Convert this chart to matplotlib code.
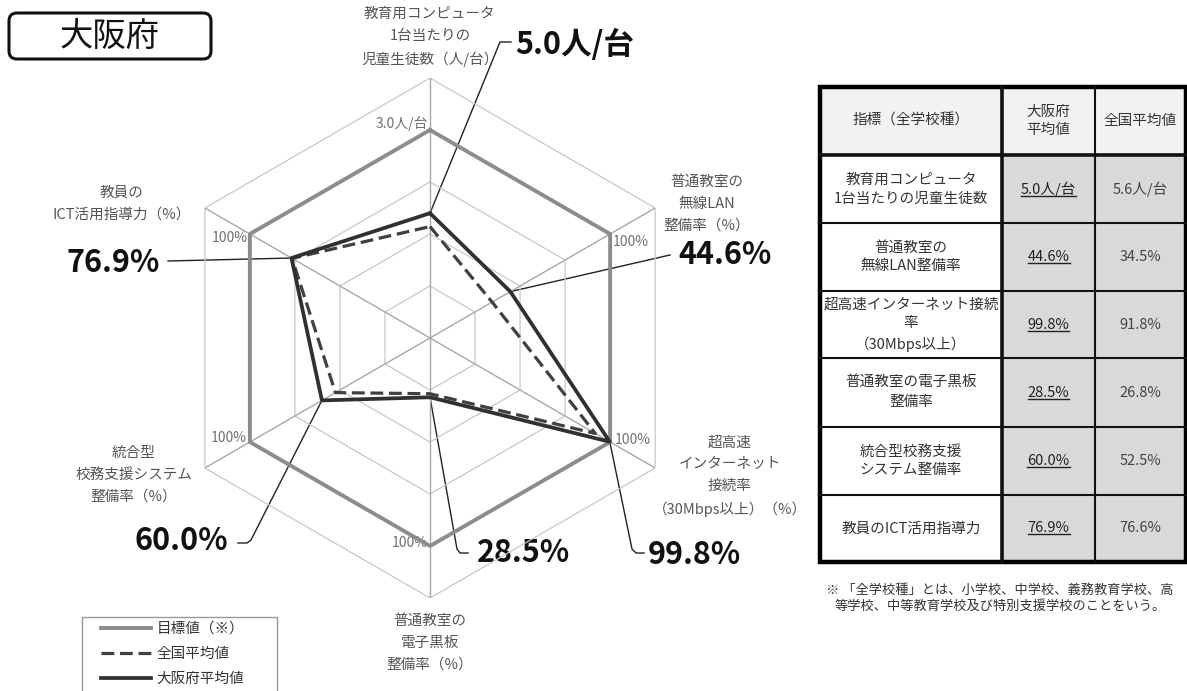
import numpy as np
import matplotlib
matplotlib.use('Agg')
import matplotlib.pyplot as plt
from matplotlib.patches import Rectangle, FancyBboxPatch

plt.rcParams['font.family'] = ['Noto Sans CJK JP', 'DejaVu Sans']

# ---- data ----
axis_labels = ['教育用コンピュータ\n1台当たりの\n児童生徒数（人/台）',
               '普通教室の\n無線LAN\n整備率（%）',
               '超高速\nインターネット\n接続率\n（30Mbps以上）（%）',
               '普通教室の\n電子黒板\n整備率（%）',
               '統合型\n校務支援システム\n整備率（%）',
               '教員の\nICT活用指導力（%）']
osaka = [5.0, 44.6, 99.8, 28.5, 60.0, 76.9]
national = [5.6, 34.5, 91.8, 26.8, 52.5, 76.6]
target_pc = 3.0       # 人/台 target for the first axis
target_pct = 100.0    # % target for the others
osaka_text = ['5.0人/台', '44.6%', '99.8%', '28.5%', '60.0%', '76.9%']
national_text = ['5.6人/台', '34.5%', '91.8%', '26.8%', '52.5%', '76.6%']
table_names = ['教育用コンピュータ\n1台当たりの児童生徒数',
               '普通教室の\n無線LAN整備率',
               '超高速インターネット接続\n率\n（30Mbps以上）',
               '普通教室の電子黒板\n整備率',
               '統合型校務支援\nシステム整備率',
               '教員のICT活用指導力']
table_header = ['指標（全学校種）', '大阪府\n平均値', '全国平均値']
legend_labels = ['目標値（※）', '全国平均値', '大阪府平均値']
note = '※ 「全学校種」とは、小学校、中学校、義務教育学校、高\n等学校、中等教育学校及び特別支援学校のことをいう。'


def score(vals):
    # first axis is "students per PC": lower is better -> invert against target
    out = [target_pc / vals[0] * 100] + list(vals[1:])
    return np.array(out)


W, H = 1187, 691
fig = plt.figure(figsize=(W / 100, H / 100), dpi=100)

# overlay axes in pixel coordinates (origin top-left)
ov = fig.add_axes([0, 0, 1, 1])
ov.set_xlim(0, W)
ov.set_ylim(H, 0)
ov.set_axis_off()

# radar axes: centre (430,338), radius 260 px
cx, cy, R = 430, 338, 260
ax = fig.add_axes([(cx - R) / W, (H - cy - R) / H, 2 * R / W, 2 * R / H], projection='polar')
ax.set_theta_zero_location('N')
ax.set_theta_direction(-1)
ax.set_rlim(0, 125)
ax.set_axis_off()

theta = np.deg2rad(np.arange(6) * 60)
th_c = np.append(theta, theta[0])

for r in [25, 50, 75, 100, 125]:
    ax.plot(th_c, [r] * 7, color='#c8c8c8', lw=0.9, zorder=1)
for t in theta:
    ax.plot([t, t], [0, 125], color='#a8a8a8', lw=1.0, zorder=1)

tgt = [target_pct] * 6
ax.plot(th_c, tgt + tgt[:1], color='#8c8c8c', lw=2.8, zorder=2, label=legend_labels[0])
nat = score(national)
ax.plot(th_c, np.append(nat, nat[0]), color='#404040', lw=2.3, ls=(0, (4, 1.8)),
        zorder=3, label=legend_labels[1])
osk = score(osaka)
ax.plot(th_c, np.append(osk, osk[0]), color='#303030', lw=2.7, zorder=4,
        label=legend_labels[2])


def to_px(t, r):
    d = ax.transData.transform((t, r))
    return ov.transData.inverted().transform(d)


# scale labels at the target vertices
tick_txt = ['3.0人/台', '100%', '100%', '100%', '100%', '100%']
tick_off = [(-2, -7, 'right'), (3, 8, 'left'), (5, -2, 'left'),
            (-2, -3, 'right'), (-3, -4, 'right'), (-2, 4, 'right')]
for i, t in enumerate(theta):
    vx, vy = to_px(t, target_pct)
    dx, dy, ha = tick_off[i]
    ov.text(vx + dx, vy + dy, tick_txt[i], fontsize=10, color='#707070',
            ha=ha, va='center')

# category labels
cat_pos = [(430, 37), (707, 204), (730, 476), (430, 643), (134, 475), (122, 204)]
for lab, (x, y) in zip(axis_labels, cat_pos):
    ov.text(x, y, lab, fontsize=10.5, color='#555555', ha='center', va='center',
            linespacing=1.7)

# big value labels with leader lines
val_pos = [(515, 45, 'left'), (678, 255, 'left'), (648, 555, 'left'),
           (477, 553, 'left'), (228, 541, 'right'), (160, 263, 'right')]
leaders = [[(500, 42), (511, 42)],
           [(670, 255)],
           [(632, 549), (636, 553), (644, 553)],
           [(457, 549), (460, 553), (468, 553)],
           [(251, 540), (247, 543), (238, 543)],
           [(168, 261)]]
for i, t in enumerate(theta):
    px, py = to_px(t, osk[i])
    pts = [(px, py)] + leaders[i]
    ov.plot([p[0] for p in pts], [p[1] for p in pts], color='#222222', lw=1.0, zorder=5)
    x, y, ha = val_pos[i]
    ov.text(x, y, osaka_text[i], fontsize=22, fontweight='bold', color='#111111',
            ha=ha, va='center')

# title box
ov.add_patch(FancyBboxPatch((9, 13), 202, 46, boxstyle='round,pad=0,rounding_size=8',
                            fc='white', ec='#111111', lw=2.2))
ov.text(110, 36, '大阪府', fontsize=24, color='#111111', ha='center', va='center')

# legend
ov.add_patch(Rectangle((82, 617), 195, 80, fc='white', ec='#999999', lw=1.0, zorder=2))
leg = fig.legend(*ax.get_legend_handles_labels(), loc='upper left',
                 bbox_to_anchor=(101 / W, 1 - 622 / H), frameon=False,
                 fontsize=10.5, handlelength=3.4, handletextpad=0.4,
                 labelspacing=0.75, borderpad=0, borderaxespad=0)
for txt in leg.get_texts():
    txt.set_color('#333333')

# table
col_x = [820, 1002, 1095, 1186]
row_y = [87, 155, 223, 291, 358, 427, 495, 562]
for j in range(3):
    ov.add_patch(Rectangle((col_x[j], row_y[0]), col_x[j + 1] - col_x[j],
                           row_y[1] - row_y[0], fc='#f2f2f2', ec='none'))
    ov.text((col_x[j] + col_x[j + 1]) / 2, (row_y[0] + row_y[1]) / 2, table_header[j],
            fontsize=10.5, color='#333333', ha='center', va='center', linespacing=1.45)
renderer = fig.canvas.get_renderer()
for i in range(6):
    y0, y1 = row_y[i + 1], row_y[i + 2]
    ym = (y0 + y1) / 2
    ov.add_patch(Rectangle((col_x[0], y0), col_x[1] - col_x[0], y1 - y0, fc='white', ec='none'))
    ov.add_patch(Rectangle((col_x[1], y0), col_x[3] - col_x[1], y1 - y0, fc='#d9d9d9', ec='none'))
    ov.text((col_x[0] + col_x[1]) / 2, ym, table_names[i], fontsize=10.5, color='#333333',
            ha='center', va='center', linespacing=1.45)
    t2 = ov.text((col_x[1] + col_x[2]) / 2, ym, osaka_text[i], fontsize=10.5,
                 color='#222222', ha='center', va='center')
    ov.text((col_x[2] + col_x[3]) / 2, ym, national_text[i], fontsize=10.5,
            color='#444444', ha='center', va='center')
    bb = t2.get_window_extent(renderer=renderer)
    (ux0, uy), (ux1, _) = ov.transData.inverted().transform([(bb.x0, bb.y0), (bb.x1, bb.y0)])
    ov.plot([ux0, ux1], [uy - 1, uy - 1], color='#222222', lw=1.0)

for k, y in enumerate(row_y[1:-1]):
    ov.plot([col_x[0], col_x[3]], [y, y], color='#111111', lw=2.6 if k == 0 else 1.5)
for k, x in enumerate(col_x[1:-1]):
    ov.plot([x, x], [row_y[0], row_y[-1]], color='#111111', lw=2.6 if k == 0 else 1.5)
ov.add_patch(Rectangle((col_x[0], row_y[0]), col_x[3] - col_x[0], row_y[-1] - row_y[0],
                       fc='none', ec='#000000', lw=3.2))

ov.text(1000, 598, note, fontsize=9.5, color='#333333', ha='center', va='center',
        linespacing=1.3)

fig.savefig('out.png', dpi=100)
